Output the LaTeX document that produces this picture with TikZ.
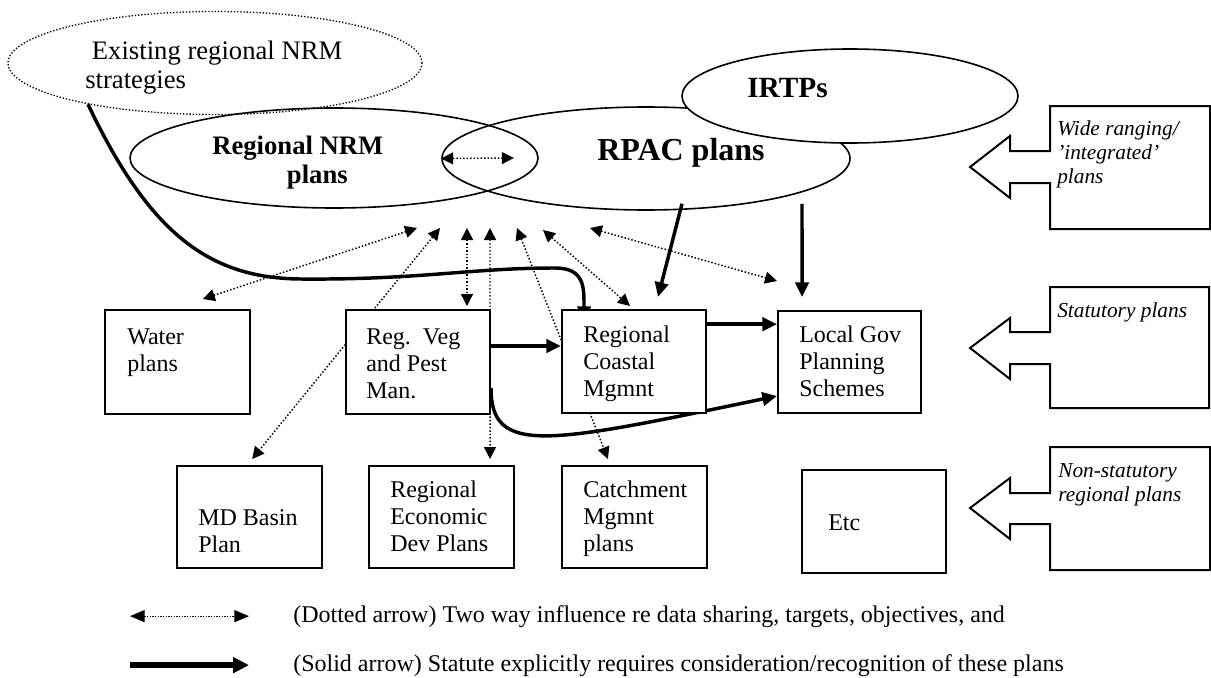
\documentclass[tikz,border=0pt]{standalone}
\usepackage{fontspec}
\setmainfont{Liberation Serif}
\usetikzlibrary{arrows.meta,shapes.geometric,fit}
\pgfdeclarelayer{background}
\pgfsetlayers{background,main}
\newcommand{\mlines}[1]{\begin{tabular}[t]{@{}l@{}}#1\end{tabular}}
\tikzset{
  box/.style={draw, fill=white, line width=1.5pt, inner sep=0pt},
  oval/.style={draw, ellipse, line width=1.2pt, inner sep=0pt},
  dottedoval/.style={draw, ellipse, line width=1pt, dash pattern=on 1pt off 1.4pt, inner sep=0pt},
  txt/.style={inner sep=0pt, anchor=base west, font=\fontsize{18}{20.25}\selectfont},
  itxt/.style={inner sep=0pt, anchor=base west, font=\itshape\fontsize{16}{18}\selectfont},
  solidarr/.style={line width=2.6pt, -{Triangle[length=11pt,width=10pt]}},
  dotarr/.style={line width=1.1pt, dash pattern=on 1.1pt off 1.5pt, {Triangle[length=9pt,width=9pt]}-{Triangle[length=9pt,width=9pt]}},
  legdot/.style={line width=0.9pt, dash pattern=on 0.9pt off 1.1pt, {Triangle[length=11pt,width=9pt]}-{Triangle[length=11pt,width=9pt]}},
  legsolid/.style={line width=4.8pt, -{Triangle[length=12pt,width=11.5pt]}},
  callout/.style={draw, line width=1.5pt, line join=miter}
}
\begin{document}
\begin{tikzpicture}[x=0.75pt,y=-0.75pt]
\useasboundingbox (0,0) rectangle (1211,678);

% ellipses
\node[dottedoval, minimum width=310.5pt, minimum height=77.25pt] (exist) at (215,63) {};
\node[oval, minimum width=306pt, minimum height=75pt] (nrm) at (334,158) {};
\node[oval, minimum width=306pt, minimum height=77.25pt] (rpac) at (646,158.5) {};
\node[oval, fill=white, minimum width=252pt, minimum height=70.5pt] (irtp) at (850,96) {};

\node[txt, font=\fontsize{20}{21.75}\selectfont] (existT) at (85,59) {\mlines{\ Existing regional NRM\\strategies}};
\node[txt, font=\bfseries\fontsize{20}{21.75}\selectfont] (nrmT) at (212,154) {\mlines{Regional NRM\\\hspace*{56pt}plans}};
\node[txt, font=\bfseries\fontsize{24}{28}\selectfont] (rpacT) at (597,160) {RPAC plans};
\node[txt, font=\bfseries\fontsize{22}{26}\selectfont] (irtpT) at (747,97) {IRTPs};

% boxes
\node[box, fit={(105,310) (250,414)}] (water) {};
\node[box, fit={(346,310) (490,414)}] (regveg) {};
\node[box, fit={(562,310) (706,413)}] (coastal) {};
\node[box, fit={(778,311) (921,413)}] (lg) {};
\node[box, fit={(177,466) (322,568)}] (md) {};
\node[box, fit={(369,466) (514,568)}] (econ) {};
\node[box, fit={(562,466) (707,568)}] (catch) {};
\node[box, fit={(802,470) (946,573)}] (etc) {};

\node[txt] (waterT) at (127,344) {\mlines{Water\\plans}};
\node[txt] (regvegT) at (366,344) {\mlines{Reg.\ \ Veg\\and Pest\\Man.}};
\node[txt] (coastalT) at (583,342) {\mlines{Regional\\Coastal\\Mgmnt}};
\node[txt] (lgT) at (799,342) {\mlines{Local Gov\\Planning\\Schemes}};
\node[txt] (mdT) at (198,525) {\mlines{MD Basin\\Plan}};
\node[txt] (econT) at (390,497) {\mlines{Regional\\Economic\\Dev Plans}};
\node[txt] (catchT) at (583,497) {\mlines{Catchment\\Mgmnt\\plans}};
\node[txt] (etcT) at (828,530) {Etc};

% callouts
\draw[callout] (1050,106) -- (1210,106) -- (1210,229) -- (1050,229) -- (1050,183) -- (1010,183) -- (1010,198) -- (970,167) -- (1010,136) -- (1010,151) -- (1050,151) -- cycle;
\draw[callout] (1050,287) -- (1209,287) -- (1209,408) -- (1050,408) -- (1050,364) -- (1010,364) -- (1010,379) -- (970,348) -- (1010,318) -- (1010,332) -- (1050,332) -- cycle;
\draw[callout] (1050,447) -- (1210,447) -- (1210,570) -- (1050,570) -- (1050,524) -- (1010,524) -- (1010,539) -- (970,508) -- (1010,478) -- (1010,493) -- (1050,493) -- cycle;
\node[itxt] (wideT) at (1057,135) {\mlines{Wide ranging/\\'integrated'\\plans}};
\node[itxt] (statT) at (1057,317) {Statutory plans};
\node[itxt] (nonT) at (1058,477) {\mlines{Non-statutory\\regional plans}};

% free ends of the dotted arrows
\coordinate (t1) at (417,228);
\coordinate (t2) at (440,228);
\coordinate (t3) at (467,228);
\coordinate (t4) at (490,228);
\coordinate (t5) at (517,228);
\coordinate (t6) at (543,230);
\coordinate (t7) at (590,228);

\begin{pgfonlayer}{background}
% solid connectors
\draw[solidarr] (exist.198) .. controls (150,235) and (210,278) .. (300,279)
   .. controls (420,280) and (470,268) .. (555,268)
   .. controls (585,268) and (584,288) .. ([xshift=-37.5pt,yshift=-9pt]coastal.north);
\draw[solidarr] ([xshift=27pt,yshift=5.25pt]rpac.south) -- ([xshift=18pt,yshift=9pt]coastal.north);
\draw[solidarr] ([xshift=117pt,yshift=5.25pt]rpac.south) -- ([xshift=-35.6pt,yshift=9.75pt]lg.north);
\draw[solidarr] ([yshift=12pt]regveg.east) -- ([yshift=12pt]regveg.east -| coastal.west);
\draw[solidarr] ([yshift=28pt]coastal.east) -- ([yshift=28pt]coastal.east -| lg.west);
\draw[solidarr] ([yshift=-19.5pt]regveg.east) .. controls +(0,68) and +(-230,48) .. ([yshift=-25.5pt]lg.west);
% dotted connectors
\draw[dotarr] (t1) -- ([xshift=19pt,yshift=7.5pt]water.north);
\draw[dotarr] (t2) -- ([xshift=2pt,yshift=4.5pt]md.north);
\draw[dotarr] (t3) -- ([xshift=36.75pt,yshift=2.25pt]regveg.north);
\draw[dotarr] (t4) -- ([xshift=36.4pt,yshift=4.5pt]econ.north);
\draw[dotarr] (t5) -- ([xshift=-19.9pt,yshift=4.5pt]catch.north);
\draw[dotarr] (t6) -- ([xshift=-3pt,yshift=2.25pt]coastal.north);
\draw[dotarr] (t7) -- ([yshift=21.75pt]lg.north west);
\draw[dotarr] (rpac.west) -- ([xshift=-18.75pt]nrm.east);
\end{pgfonlayer}

% legend
\node[txt] (leg1) at (293,622) {(Dotted arrow) Two way influence re data sharing, targets, objectives, and};
\node[txt] (leg2) at (293,671) {(Solid arrow) Statute explicitly requires consideration/recognition of these plans};
\draw[legdot] ([xshift=-122.25pt]leg1.west) -- ([xshift=-33pt]leg1.west);
\draw[legsolid] ([xshift=-122.25pt]leg2.west) -- ([xshift=-33pt]leg2.west);
\end{tikzpicture}
\end{document}
